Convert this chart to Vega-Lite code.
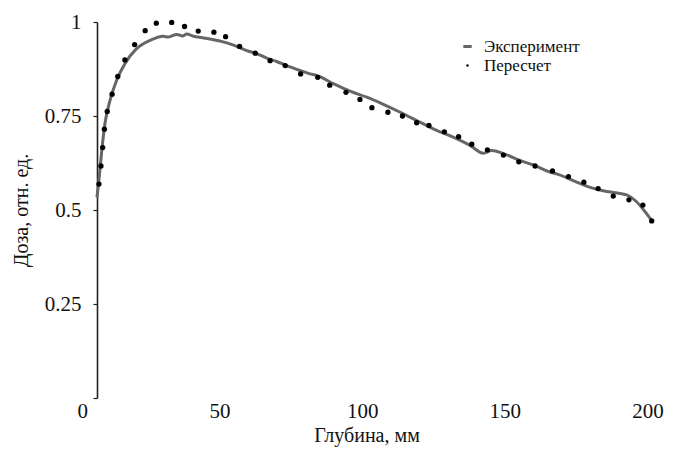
{
  "$schema": "https://vega.github.io/schema/vega-lite/v6.json",
  "autosize": {"type": "none"},
  "padding": {"left": 77, "top": 22, "right": 23, "bottom": 58},
  "width": 579,
  "height": 376,
  "background": "white",
  "config": {
    "view": {"stroke": null},
    "font": "Liberation Serif",
    "axis": {"labelFont": "Liberation Serif", "titleFont": "Liberation Serif", "labelColor": "#111", "titleColor": "#111", "grid": false, "titleFontWeight": "normal"},
    "legend": {"labelFont": "Liberation Serif", "labelColor": "#111"}
  },
  "datasets": {
    "exp": [
      {"x": 7.0, "y": 0.534}, {"x": 7.8, "y": 0.588}, {"x": 8.7, "y": 0.659}, {"x": 9.8, "y": 0.73},
      {"x": 11.6, "y": 0.792}, {"x": 13.9, "y": 0.845}, {"x": 16.8, "y": 0.889}, {"x": 20.9, "y": 0.929},
      {"x": 25.6, "y": 0.951}, {"x": 30.3, "y": 0.962}, {"x": 32.0, "y": 0.96}, {"x": 35.0, "y": 0.967},
      {"x": 37.0, "y": 0.963}, {"x": 38.5, "y": 0.968}, {"x": 40.8, "y": 0.962}, {"x": 44.0, "y": 0.958},
      {"x": 47.8, "y": 0.953}, {"x": 53.6, "y": 0.942}, {"x": 56.0, "y": 0.935}, {"x": 59.5, "y": 0.924},
      {"x": 63.0, "y": 0.916}, {"x": 66.5, "y": 0.904}, {"x": 70.0, "y": 0.895}, {"x": 73.5, "y": 0.884},
      {"x": 78.2, "y": 0.871}, {"x": 81.7, "y": 0.862}, {"x": 84.0, "y": 0.858}, {"x": 89.9, "y": 0.836},
      {"x": 95.7, "y": 0.816}, {"x": 101.6, "y": 0.8}, {"x": 107.4, "y": 0.781}, {"x": 113.3, "y": 0.76},
      {"x": 119.1, "y": 0.738}, {"x": 123.8, "y": 0.72}, {"x": 126.1, "y": 0.712}, {"x": 131.9, "y": 0.694},
      {"x": 137.8, "y": 0.672}, {"x": 142.5, "y": 0.651}, {"x": 145.4, "y": 0.658}, {"x": 149.5, "y": 0.65},
      {"x": 155.3, "y": 0.632}, {"x": 161.2, "y": 0.616}, {"x": 165.8, "y": 0.601}, {"x": 168.2, "y": 0.596},
      {"x": 174.0, "y": 0.578}, {"x": 179.9, "y": 0.56}, {"x": 185.7, "y": 0.549}, {"x": 189.5, "y": 0.545},
      {"x": 192.7, "y": 0.54}, {"x": 196.2, "y": 0.522}, {"x": 199.2, "y": 0.495}, {"x": 201.5, "y": 0.472}
    ],
    "calc": [
      {"x": 7.7, "y": 0.569}, {"x": 8.4, "y": 0.617}, {"x": 9.0, "y": 0.666}, {"x": 9.6, "y": 0.715},
      {"x": 10.6, "y": 0.762}, {"x": 12.3, "y": 0.808}, {"x": 14.3, "y": 0.855}, {"x": 16.8, "y": 0.899},
      {"x": 20.2, "y": 0.94}, {"x": 23.9, "y": 0.977}, {"x": 27.8, "y": 0.997}, {"x": 33.2, "y": 0.999},
      {"x": 37.7, "y": 0.988}, {"x": 42.5, "y": 0.976}, {"x": 48.0, "y": 0.973}, {"x": 52.1, "y": 0.961},
      {"x": 57.0, "y": 0.935}, {"x": 62.5, "y": 0.917}, {"x": 67.7, "y": 0.897}, {"x": 73.0, "y": 0.884},
      {"x": 78.4, "y": 0.862}, {"x": 84.4, "y": 0.853}, {"x": 88.6, "y": 0.832}, {"x": 94.3, "y": 0.813},
      {"x": 99.2, "y": 0.794}, {"x": 103.4, "y": 0.772}, {"x": 109.0, "y": 0.76}, {"x": 114.1, "y": 0.75},
      {"x": 119.1, "y": 0.732}, {"x": 123.4, "y": 0.725}, {"x": 128.8, "y": 0.708}, {"x": 133.8, "y": 0.695},
      {"x": 138.4, "y": 0.675}, {"x": 143.9, "y": 0.66}, {"x": 149.5, "y": 0.646}, {"x": 154.9, "y": 0.628},
      {"x": 160.6, "y": 0.617}, {"x": 166.7, "y": 0.604}, {"x": 172.3, "y": 0.589}, {"x": 177.7, "y": 0.574},
      {"x": 182.7, "y": 0.557}, {"x": 188.0, "y": 0.537}, {"x": 193.5, "y": 0.527}, {"x": 198.4, "y": 0.513},
      {"x": 201.5, "y": 0.471}
    ]
  },
  "layer": [
    {
      "mark": {"type": "rule", "color": "#222", "strokeWidth": 1.6},
      "encoding": {
        "x": {"datum": 7, "type": "quantitative", "scale": {"domain": [0, 203], "nice": false, "zero": false}},
        "x2": {"datum": 203},
        "y": {"datum": 0, "type": "quantitative"}
      }
    },
    {
      "data": {"name": "exp"},
      "transform": [{"calculate": "'Эксперимент'", "as": "s"}],
      "mark": {"type": "line", "strokeWidth": 3, "interpolate": "monotone"},
      "encoding": {
        "x": {"field": "x", "type": "quantitative",
              "scale": {"domain": [0, 203], "nice": false, "zero": false},
              "axis": {"values": [0, 50, 100, 150, 200], "domain": false, "ticks": false, "labelFont": "Liberation Serif", "titleFont": "Liberation Serif", "labelFontSize": 21, "labelPadding": 2, "title": "Глубина, мм", "titleFontSize": 20, "titlePadding": 4}},
        "y": {"field": "y", "type": "quantitative",
              "scale": {"domain": [0, 1], "nice": false, "zero": false},
              "axis": {"values": [0, 0.25, 0.5, 0.75, 1], "format": ".2~f", "labelExpr": "datum.value == 0 ? '' : datum.label", "offset": -20, "domainColor": "#222", "domainWidth": 1.6, "tickColor": "#222", "tickSize": 4, "tickWidth": 1.2, "labelFont": "Liberation Serif", "titleFont": "Liberation Serif", "labelFontSize": 21, "labelPadding": 12, "title": "Доза, отн. ед.", "titleFontSize": 20, "titlePadding": 13}},
        "stroke": {"field": "s", "type": "nominal",
                   "scale": {"domain": ["Эксперимент"], "range": ["#666666"]},
                   "legend": {"title": null, "orient": "none", "legendX": 382, "legendY": 16, "labelFont": "Liberation Serif", "labelFontSize": 17, "symbolSize": 70, "symbolStrokeWidth": 3, "labelOffset": 8}}
      }
    },
    {
      "data": {"name": "calc"},
      "transform": [{"calculate": "'Пересчет'", "as": "s"}],
      "mark": {"type": "point", "filled": true, "color": "black", "size": 28, "opacity": 1},
      "encoding": {
        "x": {"field": "x", "type": "quantitative"},
        "y": {"field": "y", "type": "quantitative"},
        "shape": {"field": "s", "type": "nominal",
                  "scale": {"domain": ["Пересчет"], "range": ["circle"]},
                  "legend": {"title": null, "orient": "none", "legendX": 382, "legendY": 35, "labelFont": "Liberation Serif", "labelFontSize": 17, "symbolSize": 6, "symbolFillColor": "black", "symbolStrokeColor": "black", "labelOffset": 8}}
      }
    }
  ]
}
